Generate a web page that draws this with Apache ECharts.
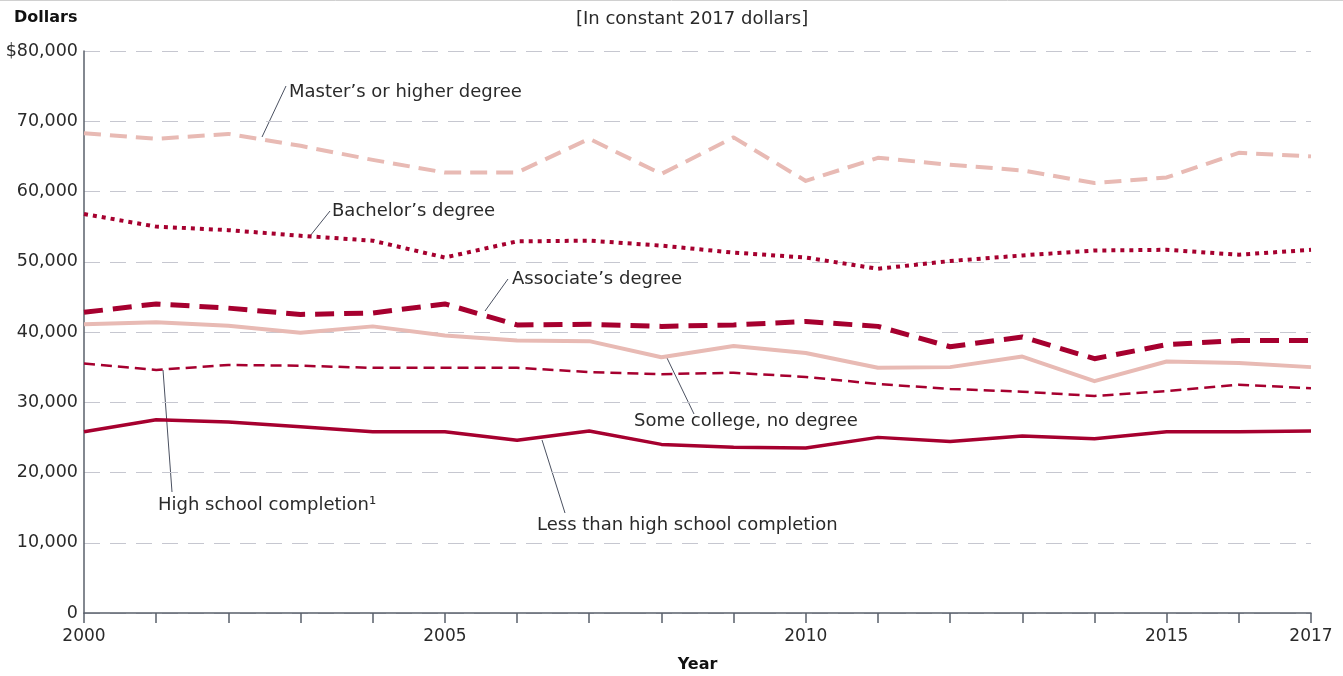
<!DOCTYPE html>
<html>
<head>
<meta charset="utf-8">
<script src="https://cdn.jsdelivr.net/npm/echarts@6/dist/echarts.min.js"></script>
<style>
html,body{margin:0;padding:0;background:#fff;}
#main{width:1343px;height:676px;}
</style>
</head>
<body>
<div id="main"></div>
<script>
// 年份与各学历收入（2017年不变美元）
var years = [2000,2001,2002,2003,2004,2005,2006,2007,2008,2009,2010,2011,2012,2013,2014,2015,2016,2017];
var masters = [68300,67500,68200,66500,64500,62700,62700,67500,62500,67700,61500,64800,63800,63000,61200,62000,65500,65000];
var bachelors = [56800,55000,54500,53700,53000,50600,52900,53000,52300,51300,50600,49000,50100,50900,51600,51700,51000,51700];
var associates = [42800,44000,43400,42500,42700,44000,41000,41100,40800,41000,41500,40800,37900,39300,36200,38200,38800,38800];
var someCollege = [41100,41400,40900,39900,40800,39500,38800,38700,36400,38000,37000,34900,35000,36500,33000,35800,35600,35000];
var highSchool = [35500,34600,35300,35200,34900,34900,34900,34300,34000,34200,33600,32600,31900,31500,30900,31600,32500,32000];
var lessThanHS = [25800,27500,27200,26500,25800,25800,24600,25900,24000,23600,23500,25000,24400,25200,24800,25800,25800,25900];
var xLabels = [2000,2005,2010,2015,2017];

var darkRed = '#a6002f';
var pink = '#e8bab4';
var font = '"DejaVu Sans", sans-serif';

function pairs(arr){
    var out=[];
    for(var i=0;i<years.length;i++){ out.push([years[i],arr[i]]); }
    return out;
}
function mkSeries(name,arr,color,width,dash){
    return {
        name:name, type:'line', data:pairs(arr), symbol:'none', smooth:false,
        lineStyle:{color:color,width:width,type:dash,cap:'butt',join:'round'}
    };
}

var myChart = echarts.init(document.getElementById('main'));

//标注文字与引线
var labelStyle = {fontSize:18,fill:'#2a2a2a',fontFamily:font};
function label(x,y,text){
    return {type:'text',left:x,top:y,style:Object.assign({text:text},labelStyle)};
}
function leader(x1,y1,x2,y2){
    return {type:'line',shape:{x1:x1,y1:y1,x2:x2,y2:y2},style:{stroke:'#4a5060',lineWidth:1}};
}

var option = {
    animation:false,
    grid:{left:84,right:32,top:51,bottom:63,outerBoundsMode:'none',containLabel:false},
    xAxis:{
        type:'value', min:2000, max:2017, interval:1,
        name:'Year', nameLocation:'middle', nameGap:44,
        nameTextStyle:{fontSize:16,fontWeight:'bold',color:'#111',fontFamily:font},
        axisLine:{lineStyle:{color:'#5a606b',width:1.5}},
        axisTick:{length:10,lineStyle:{color:'#5a606b',width:1.5}},
        axisLabel:{
            fontSize:17,color:'#2a2a2a',fontFamily:font,margin:15,
            formatter:function(v){ return xLabels.indexOf(v)>=0 ? String(v) : ''; }
        },
        splitLine:{show:false}
    },
    yAxis:{
        type:'value', min:0, max:80000, interval:10000,
        axisLine:{show:true,lineStyle:{color:'#5a606b',width:1.5}},
        axisTick:{show:false},
        axisLabel:{
            fontSize:17.5,color:'#2a2a2a',fontFamily:font,margin:6,
            formatter:function(v){
                var s = v.toLocaleString('en-US');
                return v===80000 ? '$'+s : s;
            }
        },
        splitLine:{lineStyle:{color:'#c6c7d0',width:1.2,type:[16,10]}}
    },
    series:[
        mkSeries('Master’s or higher degree',masters,pink,4,[17,9]),
        mkSeries('Bachelor’s degree',bachelors,darkRed,4,[4,5]),
        mkSeries('Associate’s degree',associates,darkRed,5,[19,10]),
        mkSeries('Some college, no degree',someCollege,pink,4,'solid'),
        mkSeries('High school completion',highSchool,darkRed,2.5,[11,6]),
        mkSeries('Less than high school completion',lessThanHS,darkRed,3.5,'solid')
    ],
    graphic:[
        {type:'line',shape:{x1:0,y1:0.5,x2:1343,y2:0.5},style:{stroke:'#d0d0d0',lineWidth:1}},
        {type:'text',left:14,top:10,style:{text:'Dollars',fontSize:16,fontWeight:'bold',fill:'#111',fontFamily:font}},
        {type:'text',left:576,top:10,style:{text:'[In constant 2017 dollars]',fontSize:18,fill:'#2a2a2a',fontFamily:font}},
        label(289,83,'Master’s or higher degree'),
        leader(262,137,286,86),
        label(332,202,'Bachelor’s degree'),
        leader(310,236,330,211),
        label(512,270,'Associate’s degree'),
        leader(485,311,508,279),
        label(634,412,'Some college, no degree'),
        leader(667,358,694,414),
        label(158,496,'High school completion¹'),
        leader(163,370,172,492),
        label(537,516,'Less than high school completion'),
        leader(542,440,565,513)
    ]
};
myChart.setOption(option);
</script>
</body>
</html>
